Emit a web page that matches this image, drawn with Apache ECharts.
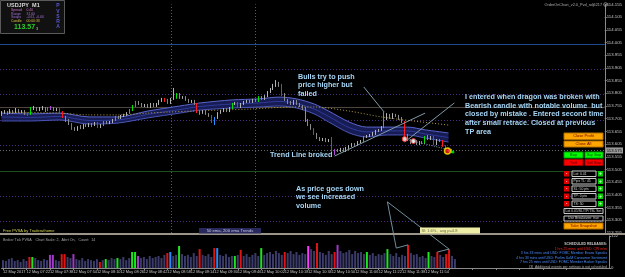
<!DOCTYPE html>
<html>
<head>
<meta charset="utf-8">
<script src="https://cdn.jsdelivr.net/npm/echarts@6.0.0/dist/echarts.min.js"></script>
<style>
html,body{margin:0;padding:0;background:#000;overflow:hidden}
#chart{width:625px;height:277px}
</style>
</head>
<body>
<div id="chart"></div>
<script>
// ---------------- DATA ----------------
const tickLabels = ["12 May 2017","12 May 07:22","12 May 07:38","12 May 07:54","12 May 08:10","12 May 08:26","12 May 08:42","12 May 08:58","12 May 09:14","12 May 09:30","12 May 09:46","12 May 10:02","12 May 10:18","12 May 10:34","12 May 10:50","12 May 11:06","12 May 11:22","12 May 11:38","12 May 11:54"];

// [open, close, low, high]
const candles = [
[113.724,113.727,113.716,113.735],[113.727,113.731,113.724,113.739],[113.731,113.727,113.720,113.735],[113.727,113.735,113.724,113.743],[113.735,113.731,113.724,113.739],
[113.731,113.739,113.727,113.747],[113.739,113.731,113.727,113.743],[113.731,113.735,113.727,113.739],[113.735,113.727,113.720,113.739],[113.727,113.724,113.716,113.731],
[113.724,113.743,113.720,113.751],[113.743,113.747,113.739,113.755],[113.747,113.739,113.735,113.751],[113.739,113.743,113.735,113.751],[113.743,113.747,113.739,113.755],
[113.747,113.739,113.731,113.751],[113.739,113.743,113.735,113.751],[113.743,113.747,113.739,113.755],[113.747,113.739,113.735,113.751],[113.739,113.743,113.735,113.747],
[113.743,113.731,113.727,113.747],[113.731,113.712,113.708,113.735],[113.712,113.700,113.692,113.716],[113.700,113.684,113.680,113.704],[113.684,113.668,113.661,113.688],
[113.668,113.661,113.657,113.672],[113.661,113.672,113.657,113.676],[113.672,113.668,113.664,113.680],[113.668,113.680,113.664,113.684],[113.680,113.676,113.672,113.684],
[113.676,113.684,113.672,113.688],[113.684,113.680,113.672,113.688],[113.680,113.688,113.676,113.692],[113.688,113.672,113.668,113.692],[113.672,113.680,113.668,113.684],
[113.680,113.692,113.676,113.696],[113.692,113.688,113.684,113.696],[113.688,113.692,113.684,113.696],[113.692,113.700,113.688,113.704],[113.700,113.712,113.696,113.716],
[113.712,113.708,113.704,113.716],[113.708,113.716,113.704,113.720],[113.716,113.720,113.712,113.724],[113.720,113.727,113.716,113.731],[113.727,113.739,113.724,113.743],
[113.739,113.755,113.735,113.759],[113.755,113.771,113.751,113.775],[113.771,113.763,113.759,113.775],[113.763,113.755,113.751,113.767],[113.755,113.759,113.751,113.763],
[113.759,113.751,113.747,113.763],[113.751,113.763,113.747,113.767],[113.763,113.755,113.751,113.767],[113.755,113.763,113.751,113.767],[113.763,113.775,113.759,113.779],
[113.775,113.783,113.771,113.787],[113.783,113.775,113.771,113.787],[113.775,113.767,113.763,113.783],[113.767,113.783,113.763,113.787],[113.783,113.787,113.779,113.826],
[113.787,113.802,113.783,113.806],[113.802,113.787,113.783,113.806],[113.787,113.790,113.783,113.794],[113.790,113.779,113.775,113.794],[113.779,113.771,113.767,113.783],
[113.771,113.775,113.767,113.779],[113.775,113.763,113.759,113.779],[113.763,113.731,113.727,113.767],[113.731,113.727,113.720,113.735],[113.727,113.735,113.724,113.739],
[113.735,113.724,113.720,113.739],[113.724,113.716,113.712,113.727],[113.716,113.696,113.688,113.720],[113.696,113.708,113.680,113.712],[113.708,113.727,113.704,113.731],
[113.727,113.735,113.724,113.739],[113.735,113.743,113.731,113.747],[113.743,113.735,113.731,113.747],[113.735,113.747,113.731,113.751],[113.747,113.763,113.743,113.767],
[113.763,113.767,113.759,113.771],[113.767,113.751,113.747,113.771],[113.751,113.763,113.747,113.767],[113.763,113.771,113.759,113.775],[113.771,113.775,113.767,113.779],
[113.775,113.771,113.767,113.779],[113.771,113.779,113.767,113.783],[113.779,113.775,113.771,113.783],[113.775,113.790,113.771,113.794],[113.790,113.783,113.779,113.794],
[113.783,113.794,113.779,113.798],[113.794,113.810,113.790,113.814],[113.810,113.822,113.806,113.826],[113.822,113.834,113.818,113.842],[113.834,113.846,113.830,113.857],
[113.846,113.838,113.830,113.850],[113.838,113.802,113.794,113.842],[113.802,113.779,113.775,113.806],[113.779,113.771,113.763,113.783],[113.771,113.763,113.759,113.775],
[113.763,113.775,113.759,113.779],[113.775,113.763,113.759,113.779],[113.763,113.755,113.751,113.767],[113.755,113.747,113.739,113.759],[113.747,113.700,113.692,113.751],
[113.700,113.680,113.676,113.704],[113.680,113.664,113.661,113.684],[113.664,113.645,113.641,113.668],[113.645,113.629,113.625,113.649],[113.629,113.621,113.617,113.633],
[113.621,113.625,113.617,113.629],[113.625,113.617,113.613,113.629],[113.617,113.621,113.613,113.625],[113.629,113.570,113.566,113.633],[113.570,113.582,113.562,113.586],
[113.582,113.578,113.574,113.586],[113.578,113.586,113.574,113.590],[113.586,113.578,113.574,113.590],[113.578,113.590,113.574,113.594],[113.590,113.598,113.586,113.601],
[113.598,113.605,113.594,113.609],[113.605,113.601,113.598,113.609],[113.601,113.613,113.598,113.617],[113.613,113.617,113.609,113.621],[113.617,113.633,113.613,113.637],
[113.633,113.637,113.629,113.641],[113.637,113.641,113.633,113.645],[113.641,113.645,113.637,113.653],[113.645,113.657,113.641,113.661],[113.657,113.661,113.653,113.664],
[113.661,113.672,113.657,113.676],[113.672,113.704,113.668,113.731],[113.704,113.716,113.700,113.727],[113.716,113.708,113.704,113.724],[113.708,113.720,113.704,113.727],
[113.720,113.716,113.712,113.724],[113.716,113.708,113.700,113.720],[113.708,113.692,113.688,113.712],[113.692,113.641,113.633,113.696],[113.641,113.621,113.617,113.645],
[113.621,113.613,113.605,113.625],[113.613,113.617,113.609,113.621],[113.617,113.605,113.601,113.621],[113.605,113.613,113.601,113.617],[113.613,113.609,113.605,113.617],
[113.609,113.633,113.605,113.637],[113.633,113.625,113.621,113.641],[113.625,113.633,113.621,113.637],[113.633,113.605,113.601,113.637],[113.605,113.621,113.601,113.625],
[113.621,113.617,113.613,113.625],[113.617,113.598,113.594,113.621],[113.598,113.586,113.582,113.601],[113.586,113.582,113.574,113.590],[113.582,113.574,113.570,113.586]
];

// PVSA bar class per candle: . normal, r red, g green, p purple, m magenta, b blue
const vsaType =
  ".........r" + "g.....pp.." + "rr..p....." + "...r.g...g" + "....ggp..." +
  "......rb.." + "g......r.." + "..rb.....g" + ".r......g." + "......r..." +
  "....m..r.." + "...rp....." + "....g....." + ".g......r." + ".....g..r." + ".rr..";

const volumes = [
30,27,34,38,27,30,23,34,27,42, 42,38,30,27,34,30,50,50,30,27,
53,53,42,38,53,34,30,38,27,34, 30,27,34,23,30,34,30,38,34,38,
34,42,30,38,61,61,46,38,42,34, 46,38,42,46,38,50,57,61,46,50,
84,53,46,50,42,57,46,72,50,46, 53,42,76,76,50,46,53,42,46,46,
50,69,46,53,42,50,57,46,76,50, 57,61,53,65,57,50,61,57,65,53,
61,50,57,53,84,72,65,95,61,57, 50,65,53,61,88,65,57,61,69,53,
65,57,61,53,61,50,57,46,53,50, 57,72,53,46,57,42,50,46,88,57,
50,53,42,46,38,61,46,42,61,50, 42,53,72,46,34
];

// "dragon" EMA band (high / close / low) read at candle indexes
const emaIndex = [0,10,20,30,40,50,61,68,79,88,95,101,107,112,119,125,132,139,145,153];
const emaHigh  = [113.727,113.724,113.727,113.712,113.712,113.735,113.755,113.767,113.779,113.783,113.790,113.783,113.763,113.735,113.692,113.672,113.672,113.672,113.661,113.649];
const emaMid   = [113.712,113.710,113.714,113.698,113.700,113.722,113.741,113.753,113.763,113.767,113.773,113.765,113.743,113.714,113.670,113.653,113.657,113.657,113.645,113.631];
const emaLow   = [113.696,113.696,113.700,113.684,113.688,113.708,113.727,113.739,113.747,113.751,113.755,113.747,113.724,113.692,113.649,113.633,113.641,113.641,113.629,113.613];

// 200 EMA (dotted)
const ema200Index = [0,20,30,40,50,57,65,85,100,107,119,130,141,153];
const ema200      = [113.731,113.727,113.720,113.720,113.727,113.731,113.735,113.743,113.751,113.751,113.735,113.712,113.696,113.680];

// horizontal levels
const roundLevels = [113.3,113.4,113.6,113.7,113.8,113.9];
const blueLevel = 114.000, tpLevel = 113.750, greenLevel = 113.500, bidPrice = 113.575;
const sessionLines = [58, 87];

// trend lines / trade lines (candle index, price)
const trendLine1 = [[114,113.558],[145,113.727]];
const trendLine2 = [[138,113.613],[155,113.767]];
const bullsPointer = [[124,113.830],[131,113.731]];
const tradeLine = [[138,113.625],[152,113.586]];
const entryPoints = [[138,113.625],[141,113.617]];
const exitPoint = [[153,113.578]];
const lastPoint = [[154,113.574]];

// volume annotation lines (candle index, volume)
const volLineA = [[131,252],[134,76],[138,88]];
const volLineB = [[131,252],[152,72]];
const volLineC = [[148,61],[152,72]];

const annotations = [
  {x:298, y:72.4, lines:["Bulls try to push","price higher but","failed"]},
  {x:270, y:150.7, lines:["Trend Line broked"]},
  {x:465, y:93, lines:["I entered when dragon was broken with","Bearish candle with notable volume  but","closed by mistake . Entered second time","after small retrace. Closed at previous","TP area"]},
  {x:296, y:184.4, lines:["As price goes down","we see increased","volume"]}
];

const releases = [
  ["SCHEDULED RELEASES:", "#c8c8c8"],
  ["1 hrs 25 mins until USD: CPI m/m", "#ff2020"],
  ["3 hrs 33 mins until USD: FOMC Member Evans Speaks", "#4a8cff"],
  ["4 hrs 33 mins until USD: Prelim UoM Consumer Sentiment", "#4a8cff"],
  ["7 hrs 25 mins until USD: FOMC Member Harker Speaks", "#4a8cff"],
  ["[3]  Additional events per settings is not scheduled", "#a8a8a8"]
];

// ---------------- BUILD ----------------
const SLOTS = 207;
const cats = [];
for (let k = 0; k < SLOTS; k++) {
  const m = 426 + 2 * k;
  cats.push(String(Math.floor(m / 60)).padStart(2, '0') + ':' + String(m % 60).padStart(2, '0'));
}
const typeColor = {r:'#ff1c1c', g:'#00e600', p:'#b048d8', m:'#ff44ff', b:'#2292ff'};
const volTypeColor = {'.':'#3b3b6a', r:'#e01414', g:'#1ee61e', p:'#a038c8', m:'#ff38ff', b:'#1e8cff'};

const candleData = candles.map((v, i) => {
  const t = vsaType[i];
  if (t === '.') return v;
  const c = typeColor[t];
  return {value: v, itemStyle: {color: c, color0: c, borderColor: c, borderColor0: c}};
});
const volumeData = volumes.map((v, i) => ({value: v, itemStyle: {color: volTypeColor[vsaType[i]]}}));

const pairs = (idx, vals) => idx.map((k, j) => [k, vals[j]]);
const emaDiff = emaHigh.map((h, j) => +(h - emaLow[j]).toFixed(4));

const FONT = '"Liberation Sans", Arial, sans-serif';
function txt(x, y, text, size, fill, o) {
  o = o || {};
  const st = {text: text, fill: fill, font: (o.bold ? 'bold ' : '') + size + 'px ' + FONT,
              align: o.align || 'left', verticalAlign: o.va || 'middle'};
  if (o.lineHeight) st.lineHeight = o.lineHeight;
  return {type: 'text', x: x, y: y, z: 101, silent: true, style: st};
}
function rect(x, y, w, h, fill, stroke) {
  const st = {fill: fill};
  if (stroke) { st.stroke = stroke; st.lineWidth = 1; }
  return {type: 'rect', z: 100, silent: true, shape: {x: x, y: y, width: w, height: h}, style: st};
}
function button(x, y, w, h, fill, stroke, label, color, size, align) {
  const out = [rect(x, y, w, h, fill, stroke)];
  if (align === 'left') out.push(txt(x + 1.5, y + h / 2, label, size || 4, color));
  else out.push(txt(x + w / 2, y + h / 2, label, size || 4, color, {align: 'center'}));
  return out;
}

const g = [];
// panel separator
g.push(rect(0, 233, 625, 2, '#9a948a'));
// info box
g.push(rect(0.5, 0.5, 64, 33, '#111111', '#5a5a5a'));
g.push(txt(7, 5, 'USDJPY  M1', 5.5, '#d8d8d8', {bold: true}));
g.push(txt(11, 10.2, 'Spread', 3.4, '#c870c8'));
g.push(txt(26.5, 10.2, '0.40', 3.4, '#c870c8'));
g.push(txt(11, 13.7, 'Range', 3.4, '#a070d0'));
g.push(txt(26.5, 13.7, '31.60', 3.4, '#a070d0'));
g.push(txt(11, 17.3, 'Swaps', 3.4, '#a070d0'));
g.push(txt(26.5, 17.3, '-0.61, -0.66', 3.4, '#a070d0'));
g.push(txt(11, 20.9, 'Candle', 3.4, '#d8c040'));
g.push(txt(26.5, 20.9, '00:00:33', 3.4, '#d8c040'));
g.push(txt(14, 27.5, '113.57', 7, '#2ccc2c', {bold: true}));
g.push(txt(36, 28.5, '3', 4, '#c0c0c0'));
['P','V','S','R','A'].forEach((c, k) => g.push(txt(58, 6 + k * 5.2, c, 5, '#5a5ad0', {bold: true, align: 'center'})));
// top right
g.push(txt(602, 4.5, 'OrderOnChart_v2.0_Pvd_sdj6217', 3.8, '#b0b0b0', {align: 'right'}));
g.push({type: 'circle', z: 100, silent: true, shape: {cx: 605.5, cy: 4.5, r: 1.8}, style: {fill: 'none', stroke: '#a0a0a0', lineWidth: 0.8}});
// annotations
annotations.forEach(a => g.push(txt(a.x, a.y, a.lines.join('\n'), 7.2, '#a6d6f6', {bold: true, va: 'top', lineHeight: 8.6})));
// buttons
g.push(...button(564, 133, 39, 6.5, '#ffa500', '#b07000', 'Close Profit', '#700000'));
g.push(...button(564, 141, 39, 6, '#ffa500', '#b07000', 'Close All', '#700000'));
g.push(...button(564, 152, 19, 6, '#00ff00', '#00a000', 'Buy', '#005000'));
g.push(...button(585, 152, 18, 6, '#00ff00', '#00a000', 'Buy Stop', '#005000', 3.6));
g.push(...button(564, 159.5, 19, 6, '#ff0000', '#a00000', 'Sell', '#500000'));
g.push(...button(585, 159.5, 18, 6, '#ff0000', '#a00000', 'Sell Stop', '#500000', 3.6));
const rowLabels = ['Lot: 0.01', 'Pips TL: 45', 'SL: 50 pts', 'TP: 0 pts', 'TS: 50'];
rowLabels.forEach((lab, k) => {
  const y = 171 + k * 7.5;
  g.push(...button(564, y, 5, 5.5, '#e00000', null, '-', '#ffffff', 5));
  g.push(...button(572, y, 24, 5.5, '#000000', '#c8c8c8', lab, '#d0d0d0', 3.4, 'left'));
  g.push(...button(598, y, 5, 5.5, '#00d000', null, '+', '#ffffff', 5));
});
g.push(...button(564, 208.5, 39, 5, '#000000', '#c8c8c8', 'Lot 0.01/SL/TP/TSL Set', '#d0d0d0', 3.4));
g.push(...button(564, 216, 39, 5, '#000000', '#c8c8c8', 'Use Breakeven: true', '#d0d0d0', 3.4));
g.push(...button(564, 223, 39, 6, '#ffa500', '#b07000', 'Take Snapshot', '#700000'));
// bottom texts
g.push(txt(3, 231, 'Free PVSA by Traderathome', 4, '#d0d050'));
g.push(...button(199, 228, 62, 5.5, '#28285c', null, '50 ema, 200 ema Trends', '#c8c8e0', 4.2));
g.push(txt(3, 239.5, 'Broker Tick PVSA    Chart Scale: 2,  Alert On,   Count:  14', 3.6, '#a8a8a8'));
g.push(...button(420, 227.5, 60, 6, '#eeeea6', null, 'Sl: 1.6%,  avg p=4.8', '#6a6a48', 4, 'left'));
releases.forEach((r, k) => g.push(txt(607, 244 + k * 4.6, r[0], 3.5, r[1], {align: 'right', bold: k === 0})));

const lineSeries = (data, color, extra) => Object.assign({
  type: 'line', xAxisIndex: 0, yAxisIndex: 0, data: data, symbol: 'none', silent: true,
  lineStyle: {color: color, width: 1}, z: 4
}, extra || {});

const option = {
  backgroundColor: '#000000',
  animation: false,
  grid: [
    {left: 0, right: 16, top: 4.4, height: 228.6},
    {left: 0, right: 16, top: 236, height: 32}
  ],
  xAxis: [
    {type: 'category', gridIndex: 0, data: cats, show: false, boundaryGap: true},
    {type: 'category', gridIndex: 1, data: cats, boundaryGap: true,
     axisLine: {lineStyle: {color: '#8a8a8a'}},
     axisTick: {show: true, interval: 7, alignWithLabel: true, length: 2, lineStyle: {color: '#8a8a8a'}},
     axisLabel: {interval: 7, color: '#c8c8c8', fontSize: 3.9, fontFamily: FONT, align: 'left', margin: 2,
                 formatter: (v, i) => (i % 8 === 0 ? (tickLabels[i / 8] || '') : '')},
     splitLine: {show: false}}
  ],
  yAxis: [
    {type: 'value', gridIndex: 0, position: 'right', min: 113.255, max: 114.155, interval: 0.05,
     axisLine: {show: true, lineStyle: {color: '#8a8a8a'}},
     axisTick: {show: true, length: 2, lineStyle: {color: '#8a8a8a'}},
     axisLabel: {color: '#c8c8c8', fontSize: 4.3, fontFamily: FONT, margin: 2, formatter: v => v.toFixed(3)},
     splitLine: {show: false}},
    {type: 'value', gridIndex: 1, position: 'right', min: 0, max: 122, interval: 122,
     axisLine: {show: true, lineStyle: {color: '#8a8a8a'}},
     axisTick: {show: true, length: 2, lineStyle: {color: '#8a8a8a'}},
     axisLabel: {color: '#c8c8c8', fontSize: 4.3, fontFamily: FONT, margin: 2},
     splitLine: {show: false}}
  ],
  series: [
    // dragon band
    lineSeries(pairs(emaIndex, emaLow), '#4a56b8', {stack: 'dragon', smooth: 0.3, z: 2}),
    lineSeries(pairs(emaIndex, emaDiff), '#5a66cc', {stack: 'dragon', smooth: 0.3, z: 2,
      areaStyle: {color: '#171c54', opacity: 1}}),
    lineSeries(pairs(emaIndex, emaMid), '#2f3a96', {smooth: 0.3, z: 3}),
    // 200 EMA dotted
    lineSeries(pairs(ema200Index, ema200), '#b09a40', {smooth: 0.3, z: 3, lineStyle: {color: '#b09a40', width: 1, type: [1, 2]}}),
    {
      type: 'candlestick', xAxisIndex: 0, yAxisIndex: 0, data: candleData, barWidth: 1.2, z: 5,
      itemStyle: {color: '#b4b4b4', color0: '#8c8c8c', borderColor: '#b4b4b4', borderColor0: '#8c8c8c', borderWidth: 1},
      markLine: {
        silent: true, symbol: ['none', 'none'], animation: false, z: 1,
        label: {show: false},
        data: [
          ...roundLevels.map(v => ({yAxis: v, lineStyle: {color: '#4e2c80', type: [1, 2], width: 1}})),
          {yAxis: blueLevel, lineStyle: {color: '#1f4c8e', type: 'solid', width: 1}},
          {yAxis: tpLevel, lineStyle: {color: '#4e463c', type: 'solid', width: 1}},
          {yAxis: greenLevel, lineStyle: {color: '#1b4f1b', type: 'solid', width: 1}},
          ...sessionLines.map(k => ({xAxis: k, lineStyle: {color: '#5a5a5a', type: [1, 2], width: 1}})),
          {yAxis: bidPrice, lineStyle: {color: '#6a6a6a', type: [1, 2], width: 1},
           label: {show: true, position: 'end', distance: 1, formatter: bidPrice.toFixed(3), color: '#000',
                   backgroundColor: '#9a9a9a', fontSize: 4.3, fontFamily: FONT, padding: [1, 1]}}
        ]
      }
    },
    lineSeries(trendLine1, '#7f9ca8', {z: 6}),
    lineSeries(trendLine2, '#7f9ca8', {z: 6}),
    lineSeries(bullsPointer, '#7f9ca8', {z: 6}),
    lineSeries(tradeLine, '#8aa0b8', {z: 6, lineStyle: {color: '#8aa0b8', width: 1, type: [1, 1.5]}}),
    {type: 'scatter', xAxisIndex: 0, yAxisIndex: 0, data: entryPoints, symbolSize: 5, z: 7, silent: true,
     itemStyle: {color: '#ffffff', borderColor: '#ff2020', borderWidth: 1}},
    {type: 'scatter', xAxisIndex: 0, yAxisIndex: 0, data: exitPoint, symbolSize: 6, symbolOffset: [-1, 0], z: 7, silent: true,
     itemStyle: {color: '#ff2020', borderColor: '#ffee00', borderWidth: 1.5}},
    {type: 'scatter', xAxisIndex: 0, yAxisIndex: 0, data: lastPoint, symbolSize: 3, symbolOffset: [1.5, 0], z: 7, silent: true,
     itemStyle: {color: '#00ff00'}},
    // volume
    {type: 'bar', xAxisIndex: 1, yAxisIndex: 1, data: volumeData, barWidth: 2, silent: true},
    {type: 'line', xAxisIndex: 1, yAxisIndex: 1, data: volLineA, symbol: 'none', clip: false, silent: true, z: 6,
     lineStyle: {color: '#6f8e9c', width: 1}},
    {type: 'line', xAxisIndex: 1, yAxisIndex: 1, data: volLineB, symbol: 'none', clip: false, silent: true, z: 6,
     lineStyle: {color: '#6f8e9c', width: 1}},
    {type: 'line', xAxisIndex: 1, yAxisIndex: 1, data: volLineC, symbol: 'none', clip: false, silent: true, z: 6,
     lineStyle: {color: '#6f8e9c', width: 1}}
  ],
  graphic: {elements: g}
};

const chart = echarts.init(document.getElementById('chart'), null, {renderer: 'canvas', width: 625, height: 277});
chart.setOption(option);
</script>
</body>
</html>
